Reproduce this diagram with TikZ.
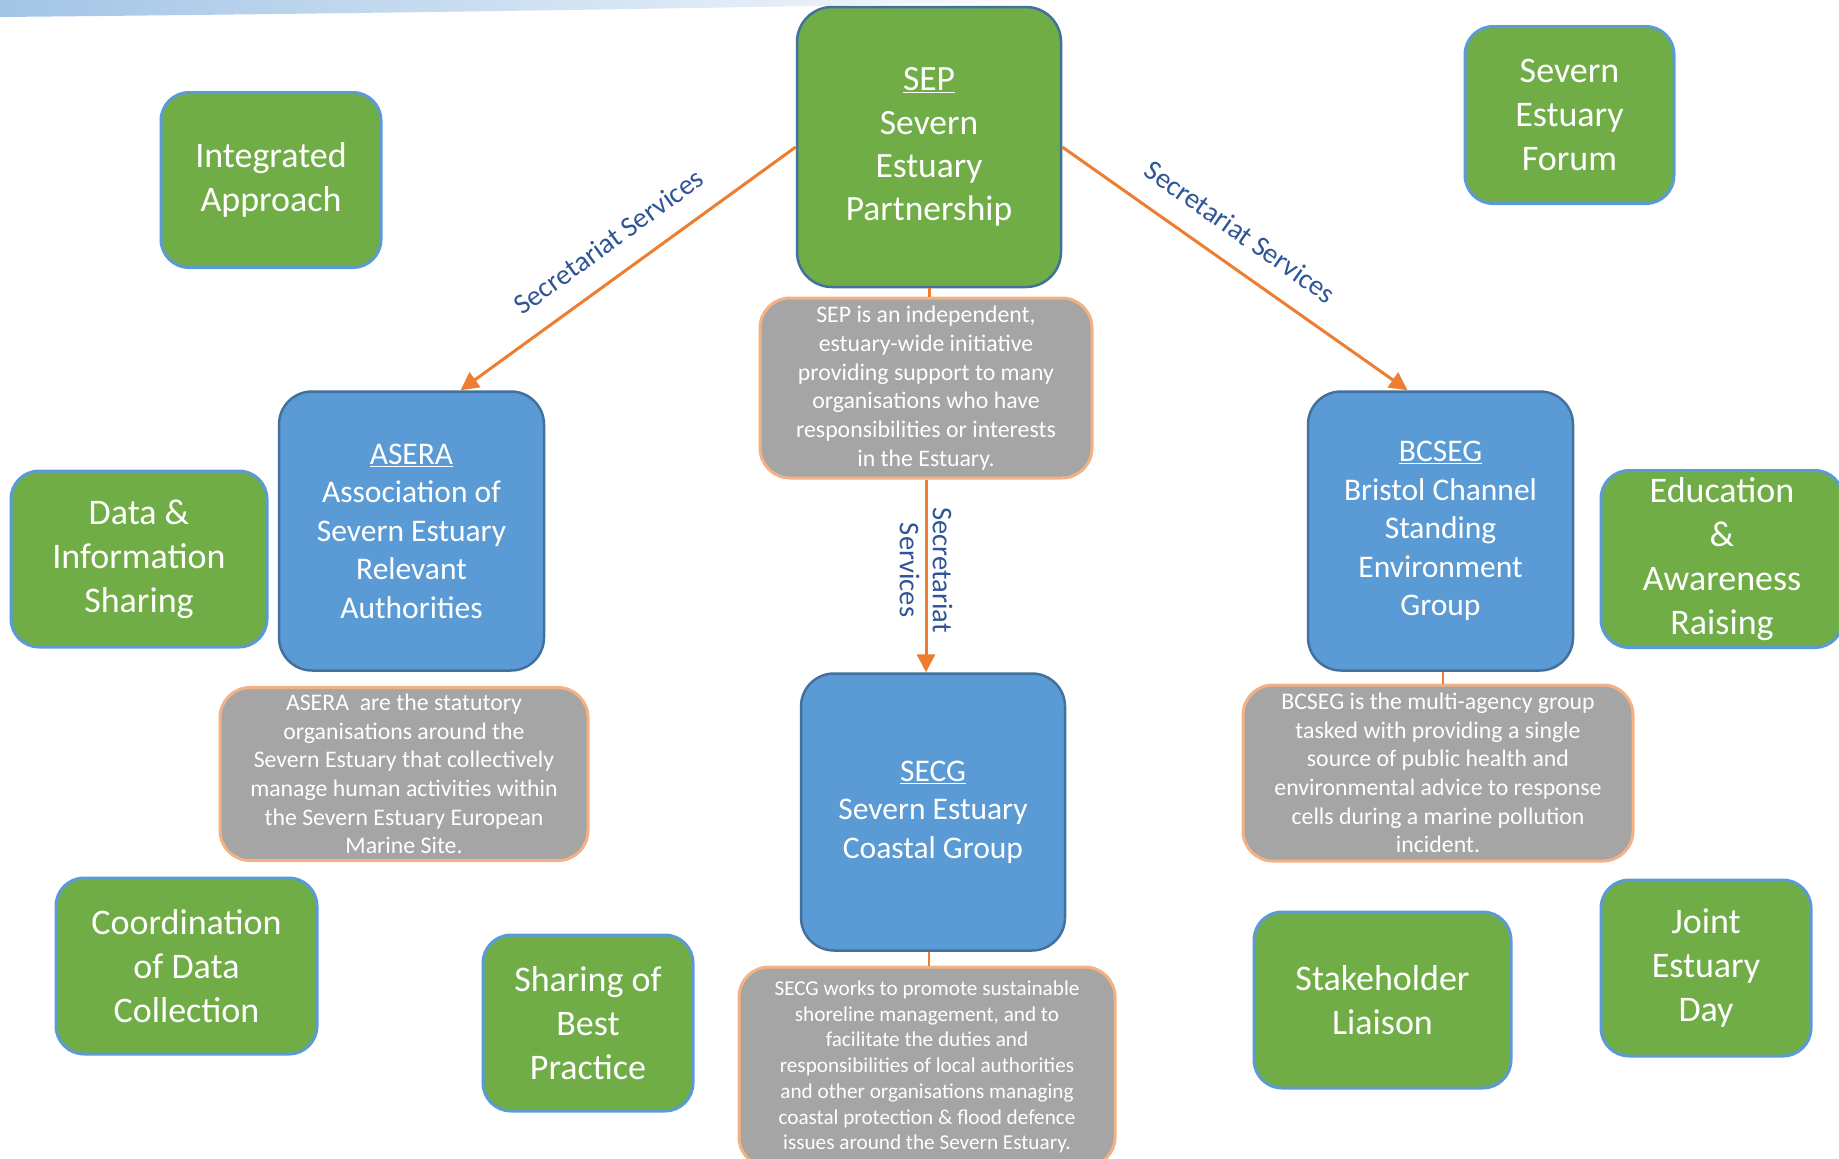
\documentclass[tikz,border=0pt]{standalone}
\usepackage{fontspec}
\setmainfont{Carlito}
\usetikzlibrary{arrows.meta}

\definecolor{sepgreen}{HTML}{70AD47}
\definecolor{boxblue}{HTML}{5B9BD5}
\definecolor{darkblue}{HTML}{41719C}
\definecolor{notegrey}{HTML}{A5A5A5}
\definecolor{noteedge}{HTML}{F4B183}
\definecolor{feedorange}{HTML}{ED7D31}
\definecolor{labelblue}{HTML}{2F5597}
\definecolor{bannerblue}{HTML}{A2C4E6}

\begin{document}
\begin{tikzpicture}[x=1pt, y=-1pt, nodes = {align = center}, >={Triangle[length=18pt, width=18pt]}]

  \tikzstyle{lead}=[draw=darkblue, fill=sepgreen, line width=2.5pt, rounded corners=35pt, text=white, inner sep=0pt, font=\fontsize{35.5}{43.3}\selectfont]
  \tikzstyle{group}=[draw=darkblue, fill=boxblue, line width=2.5pt, rounded corners=33pt, text=white, inner sep=0pt, font=\fontsize{31.5}{38.5}\selectfont, minimum width=265pt, minimum height=279pt]
  \tikzstyle{theme}=[draw=boxblue, fill=sepgreen, line width=3pt, rounded corners=28pt, text=white, inner sep=0pt, font=\fontsize{36}{44}\selectfont, minimum height=176pt]
  \tikzstyle{note}=[draw=noteedge, fill=notegrey, line width=3pt, rounded corners=30pt, text=white, inner sep=0pt, font=\fontsize{23.8}{28.7}\selectfont]
  \tikzstyle{feed}=[draw=feedorange, line width=3pt]
  \tikzstyle{linklabel}=[text=labelblue, inner sep=2pt, font=\fontsize{28.5}{33}\selectfont]

  \useasboundingbox (0,0) rectangle (1839,1159);

  % banner at the top edge
  \shade[left color=bannerblue, right color=white] (0,0) -- (1100,0) .. controls (760,8) and (320,14) .. (0,17) -- cycle;

  \node[lead, minimum width=264pt, minimum height=280pt] (sep) at (929,147) {\underline{SEP}\\Severn\\Estuary\\Partnership};
  \node[note, minimum width=332pt, minimum height=180pt] (sepnote) at (926,388) {SEP is an independent,\\estuary-wide initiative\\providing support to many\\organisations who have\\responsibilities or interests\\in the Estuary.};

  \node[group] (asera) at (411.5,531) {\underline{ASERA}\\Association of\\Severn Estuary\\Relevant\\Authorities};
  \node[note, minimum width=368pt, minimum height=173pt] (aseranote) at (404,774) {ASERA~ are the statutory\\organisations around the\\Severn Estuary that collectively\\manage human activities within\\the Severn Estuary European\\Marine Site.};

  \node[group] (bcseg) at (1440.5,531) {\underline{BCSEG}\\Bristol Channel\\Standing\\Environment\\Group};
  \node[note, minimum width=390pt, minimum height=176pt] (bcsegnote) at (1438,773) {BCSEG is the multi-agency group\\tasked with providing a single\\source of public health and\\environmental advice to response\\cells during a marine pollution\\incident.};

  \node[group, minimum width=264pt, minimum height=277pt] (secg) at (933,812) {\underline{SECG}\\Severn Estuary\\Coastal Group};
  \node[note, minimum width=376pt, minimum height=200pt, font=\fontsize{21.2}{25.7}\selectfont] (secgnote) at (927,1067) {SECG works to promote sustainable\\shoreline management, and to\\facilitate the duties and\\responsibilities of local authorities\\and other organisations managing\\coastal protection \& flood defence\\issues around the Severn Estuary.};

  \node[theme, minimum width=220pt, minimum height=175pt] (integ) at (271,180) {Integrated\\Approach};
  \node[theme, minimum width=209pt, minimum height=177pt] (forum) at (1569.5,115) {Severn\\Estuary\\Forum};
  \node[theme, minimum width=256pt] (datainfo) at (139,559) {Data \&\\Information\\Sharing};
  \node[theme, minimum width=242pt, minimum height=177pt] (educ) at (1722,559) {Education\\\&\\Awareness\\Raising};
  \node[theme, minimum width=261pt] (coord) at (186.5,966) {Coordination\\of Data\\Collection};
  \node[theme, minimum width=210pt] (bestprac) at (588,1023) {Sharing of\\Best\\Practice};
  \node[theme, minimum width=257pt] (stake) at (1382.5,1000) {Stakeholder\\Liaison};
  \node[theme, minimum width=210pt] (joint) at (1706,968) {Joint\\Estuary\\Day};

  \draw[feed, ->] (sep.west) -- node[sloped, above=20pt, pos=0.5, linklabel] {Secretariat Services} ([xshift=49pt]asera.north);
  \draw[feed, ->] (sep.east) -- node[sloped, above=20pt, pos=0.46, linklabel] {Secretariat Services} ([xshift=-33pt]bcseg.north);
  \draw[feed] (sep.south) -- (sep.south |- sepnote.north);
  \draw[feed, ->] (sepnote.south) -- node[pos=0.47, rotate=-90, linklabel] {Secretariat\\Services} (sepnote.south |- secg.north);
  \draw[feed, line width=1.5pt] (bcseg.south) ++(2.5pt,0) -- ([xshift=5pt]bcsegnote.north);
  \draw[feed, line width=1.5pt] ([xshift=-4pt]secg.south) -- ([xshift=2pt]secgnote.north);
\end{tikzpicture}
\end{document}
